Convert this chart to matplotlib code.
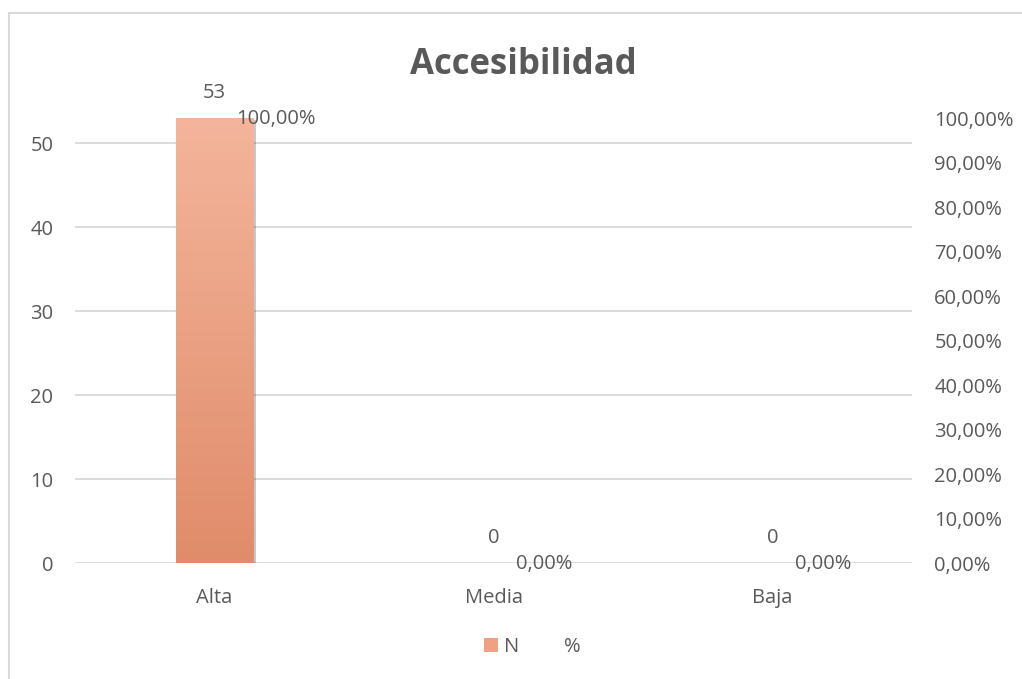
import numpy as np
import matplotlib
matplotlib.use("Agg")
import matplotlib.pyplot as plt
from matplotlib.lines import Line2D
from matplotlib.patches import Rectangle
from matplotlib.colors import LinearSegmentedColormap
import matplotlib.patheffects as pe

plt.rcParams['font.family'] = ['Open Sans', 'DejaVu Sans']

categories = ["Alta", "Media", "Baja"]
n_values = [53, 0, 0]
pct_values = [1.0, 0.0, 0.0]
pct_labels = ["100,00%", "0,00%", "0,00%"]
left_ticks = [0, 10, 20, 30, 40, 50]
right_ticks = [i / 10 for i in range(11)]
right_tick_labels = [f"{int(t * 100)},00%" for t in right_ticks]

TEXT = "#595959"
GRID = "#D9D9D9"
TOP_C = "#F4B59C"
BOT_C = "#E08C6A"
FS = 14.5

fig = plt.figure(figsize=(10.22, 6.79), dpi=100)
ax = fig.add_axes([0.0734, 0.1708, 0.819, 0.6554])
ax2 = ax.twinx()

x = np.arange(len(categories))
width = 0.276
bars = ax.bar(x, n_values, width=width, color=BOT_C, zorder=2)

# vertical gradient fill inside each bar, plus a soft shadow
cmap = LinearSegmentedColormap.from_list("bar", [BOT_C, TOP_C])
grad = np.linspace(0, 1, 256).reshape(-1, 1)
for b in bars:
    h = b.get_height()
    if h <= 0:
        b.set_visible(False)
        continue
    b.set_path_effects([pe.SimplePatchShadow(offset=(2.5, -1.5), shadow_rgbFace="#000000", alpha=0.22), pe.Normal()])
    x0 = b.get_x()
    im = ax.imshow(grad, cmap=cmap, origin="lower", aspect="auto",
                   extent=(x0, x0 + b.get_width(), 0, h), zorder=3)
    im.set_clip_path(b)

ax.set_xlim(-0.5, len(categories) - 0.5)
ax.set_ylim(0, 53)
ax2.set_ylim(0, 1)

ax.set_yticks(left_ticks)
ax.set_yticklabels([str(t) for t in left_ticks])
ax2.set_yticks(right_ticks)
ax2.set_yticklabels(right_tick_labels)
ax.set_xticks(x)
ax.set_xticklabels(categories)

for a in (ax, ax2):
    for s in a.spines.values():
        s.set_visible(False)
    a.tick_params(length=0, colors=TEXT, labelsize=FS)
ax.tick_params(axis="y", pad=15.5)
ax2.tick_params(axis="y", pad=16)
ax.tick_params(axis="x", pad=18)
ax.set_xticklabels(categories, color=TEXT)

ax.yaxis.grid(True, color=GRID, linewidth=1.3, zorder=0)
ax.set_axisbelow(True)

# percentage series: line without stroke or markers, labelled only
line, = ax2.plot(x, pct_values, linestyle="none", marker=None)

for xi, v in zip(x, n_values):
    ax.annotate(str(v), (xi, v), xytext=(0, 25), textcoords="offset pixels",
                ha="center", va="center", fontsize=FS, color=TEXT, zorder=5)
for xi, v, lab in zip(x, pct_values, pct_labels):
    ax2.annotate(lab, (xi, v), xytext=(22, -1), textcoords="offset pixels",
                 ha="left", va="center", fontsize=FS, color=TEXT, zorder=5)

fig.text(0.512, 0.905, "Accesibilidad", ha="center", va="center",
         fontsize=25, fontweight="bold", color=TEXT)

handles = [Rectangle((0, 0), 1, 1, facecolor="#EEA283"),
           Line2D([], [], linestyle="none")]
fig.legend(handles, ["N", "%"], loc="center", bbox_to_anchor=(0.521, 0.047),
           ncol=2, frameon=False, fontsize=FS, labelcolor=TEXT,
           handlelength=0.7, handleheight=0.7, handletextpad=0.3, columnspacing=1.2)

# chart area border (top and left edges)
fig.add_artist(Line2D([9 / 1022, 1], [1 - 13 / 679, 1 - 13 / 679], color="#D9D9D9", linewidth=1.5, transform=fig.transFigure))
fig.add_artist(Line2D([9 / 1022, 9 / 1022], [0, 1 - 13 / 679], color="#D9D9D9", linewidth=1.5, transform=fig.transFigure))

fig.savefig("out.png", dpi=100)
